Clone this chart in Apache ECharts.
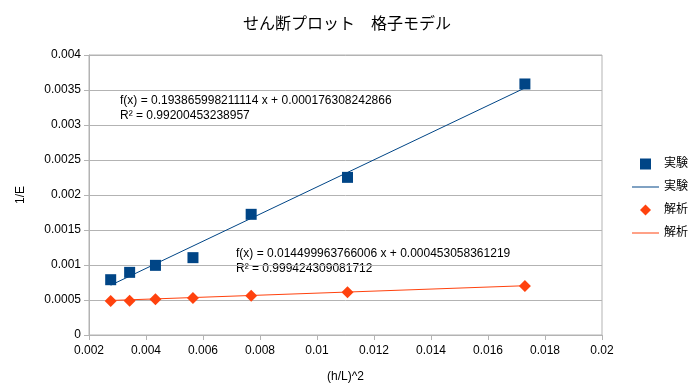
<!DOCTYPE html>
<html><head><meta charset="utf-8">
<script src="https://cdn.jsdelivr.net/npm/echarts@6/dist/echarts.min.js"></script>
<style>html,body{margin:0;padding:0;background:#fff}#c{width:694px;height:387px}</style>
</head><body><div id="c"></div>
<script>
// data
var xValues = [0.002761, 0.003426, 0.004332, 0.005648, 0.00769, 0.01107, 0.017295];
var expValues = [0.00079, 0.000895, 0.000995, 0.001105, 0.001724, 0.002252, 0.003586];
var anaValues = [0.000486, 0.00049, 0.00051, 0.000529, 0.000562, 0.00061, 0.0007];
var expFit = {slope: 0.193865998211114, intercept: 0.000176308242866, r2: '0.99200453238957'};
var anaFit = {slope: 0.014499963766006, intercept: 0.000453058361219, r2: '0.999424309081712'};
var xTickLabels = ['0.002','0.004','0.006','0.008','0.01','0.012','0.014','0.016','0.018','0.02'];
var yTickLabels = ['0','0.0005','0.001','0.0015','0.002','0.0025','0.003','0.0035','0.004'];
var legendNames = {expPt:'実験', expLine:'実験', anaPt:'解析', anaLine:'解析'};

var BLUE = '#004586', ORANGE = '#ff420e';
var FONT = '"Liberation Sans", "Noto Sans CJK JP", sans-serif';
function pts(ys){ return xValues.map(function(x,i){return [x, ys[i]];}); }
function fitLine(f){
  var x0 = Math.min.apply(null, xValues), x1 = Math.max.apply(null, xValues);
  return [[x0, f.slope*x0+f.intercept],[x1, f.slope*x1+f.intercept]];
}
function fitText(f){
  return 'f(x) = ' + f.slope.toString() + ' x + ' + f.intercept.toFixed(15).replace(/0+$/,'') + '\nR² = ' + f.r2;
}

var chart = echarts.init(document.getElementById('c'), null, {renderer:'canvas'});
chart.setOption({
  backgroundColor:'#fff',
  animation:false,
  textStyle:{fontFamily:FONT},
  title:{text:'せん断プロット　格子モデル', left:'center', top:12,
    textStyle:{fontFamily:FONT, fontSize:16, fontWeight:'normal', color:'#000'}},
  grid:{left:89, right:92, top:55, bottom:52, show:true, borderColor:'#b3b3b3', borderWidth:1,
    containLabel:false, outerBoundsMode:'none'},
  xAxis:{type:'value', min:0.002, max:0.02, interval:0.002,
    name:'(h/L)^2', nameLocation:'middle', nameGap:36,
    nameTextStyle:{fontFamily:FONT, fontSize:12, color:'#000'},
    axisLine:{lineStyle:{color:'#b3b3b3'}},
    axisTick:{show:true, length:5, lineStyle:{color:'#b3b3b3'}},
    axisLabel:{fontFamily:FONT, fontSize:12, color:'#000', margin:10,
      formatter:function(v){return xTickLabels[Math.round((v-0.002)/0.002)];}},
    splitLine:{show:false}},
  yAxis:{type:'value', min:0, max:0.004, interval:0.0005,
    name:'1/E', nameLocation:'middle', nameGap:62, nameRotate:90,
    nameTextStyle:{fontFamily:FONT, fontSize:12, color:'#000'},
    axisLine:{show:true, lineStyle:{color:'#b3b3b3'}},
    axisTick:{show:true, length:5, lineStyle:{color:'#b3b3b3'}},
    axisLabel:{fontFamily:FONT, fontSize:12, color:'#000', margin:8,
      formatter:function(v){return yTickLabels[Math.round(v/0.0005)];}},
    splitLine:{show:true, lineStyle:{color:'#b3b3b3', width:1}}},
  legend:{orient:'vertical', right:1, top:153, itemGap:11, itemWidth:27, itemHeight:11,
    symbolKeepAspect:true,
    textStyle:{fontFamily:FONT, fontSize:12, color:'#000'},
    formatter:function(n){return legendNames[n];},
    data:[{name:'expPt', icon:'path://M0,0h1v1h-1z', itemStyle:{color:BLUE, opacity:1}},
          {name:'expLine', icon:'path://M0,0h27v1h-27z', itemStyle:{color:BLUE, opacity:1}},
          {name:'anaPt', icon:'path://M1,0L2,1L1,2L0,1z', itemStyle:{color:ORANGE, opacity:1}},
          {name:'anaLine', icon:'path://M0,0h27v1h-27z', itemStyle:{color:ORANGE, opacity:1}}]},
  series:[
    {name:'expLine', type:'line', data:fitLine(expFit), symbol:'none', silent:true,
      lineStyle:{color:BLUE, width:1}, itemStyle:{color:BLUE}, z:2},
    {name:'anaLine', type:'line', data:fitLine(anaFit), symbol:'none', silent:true,
      lineStyle:{color:ORANGE, width:1}, itemStyle:{color:ORANGE}, z:2},
    {name:'expPt', type:'scatter', data:pts(expValues), symbol:'rect', symbolSize:11,
      itemStyle:{color:BLUE, opacity:1}, z:3},
    {name:'anaPt', type:'scatter', data:pts(anaValues), symbol:'diamond', symbolSize:12,
      itemStyle:{color:ORANGE, opacity:1}, z:3}
  ],
  graphic:[
    {type:'text', left:120, top:93, style:{text:fitText(expFit), fontFamily:FONT, fontSize:12, lineHeight:15, fill:'#000'}},
    {type:'text', left:236, top:246, style:{text:fitText(anaFit), fontFamily:FONT, fontSize:12, lineHeight:15, fill:'#000'}}
  ]
});
</script></body></html>
